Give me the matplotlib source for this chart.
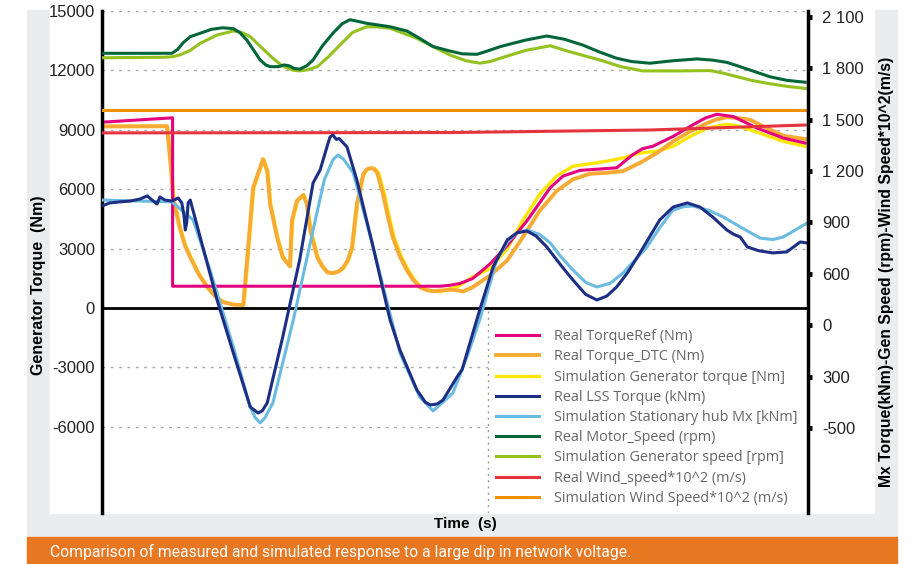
import matplotlib
matplotlib.use("Agg")
import matplotlib.pyplot as plt
from matplotlib.patches import Rectangle

# time axis in seconds (no tick labels shown on the original)
t_ref = [0, 1.00, 1.00, 4.79, 4.93, 5.07, 5.25, 5.50, 5.74, 6.02, 6.35, 6.53, 6.77, 7.29, 7.52, 7.66,
         7.80, 8.09, 8.37, 8.55, 8.71, 8.94, 9.28, 9.65, 9.96]
torque_ref = [9384, 9604, 1100, 1100, 1150, 1237, 1488, 2240, 3156, 4409, 6077, 6663, 6949, 7079, 7750, 8051,
              8166, 8667, 9254, 9600, 9785, 9669, 9083, 8582, 8332]

t_dtc = [0, 0.92, 0.97, 1.01, 1.10, 1.17, 1.25, 1.37, 1.49, 1.60, 1.71, 1.86, 2.00, 2.07, 2.14, 2.28,
         2.34, 2.38, 2.48, 2.56, 2.66, 2.69, 2.76, 2.85, 2.90, 2.95, 3.05, 3.12, 3.19, 3.27, 3.35, 3.41,
         3.48, 3.54, 3.61, 3.70, 3.75, 3.80, 3.85, 3.90, 3.98, 4.05, 4.12, 4.22, 4.32, 4.40, 4.50, 4.60,
         4.69, 4.93, 5.03, 5.11, 5.25, 5.50, 5.74, 5.96, 6.20, 6.44, 6.67, 6.91, 7.15, 7.38, 7.62, 7.86,
         8.09, 8.33, 8.57, 8.70, 8.85, 9.00, 9.18, 9.42, 9.65, 9.96]
torque_dtc = [9170, 9180, 7300, 5500, 4060, 3200, 2560, 1700, 1050, 600, 300, 170, 150, 3056, 6060, 7515,
              6914, 5261, 3557, 2555, 2104, 4409, 5411, 5711, 5261, 3908, 2555, 2100, 1804, 1754, 1850, 2004,
              2400, 3056, 5261, 6764, 7000, 7064, 7030, 6814, 5762, 4600, 3557, 2600, 1904, 1450, 1052, 900,
              850, 920, 900, 830, 1050, 1653, 2405, 3572, 4910, 5912, 6498, 6778, 6828, 6914, 7330, 7830,
              8417, 8918, 9334, 9520, 9634, 9600, 9504, 9083, 8702, 8532]

t_simtq = [0, 0.93, 0.98, 1.02, 1.11, 1.18, 1.26, 1.38, 1.50, 1.61, 1.72, 1.87, 2.01, 2.08, 2.15, 2.29,
           2.35, 2.39, 2.49, 2.57, 2.67, 2.70, 2.77, 2.86, 2.91, 2.96, 3.06, 3.13, 3.20, 3.28, 3.36, 3.42,
           3.49, 3.55, 3.62, 3.71, 3.76, 3.82, 3.87, 3.92, 4.00, 4.07, 4.14, 4.24, 4.34, 4.42, 4.52, 4.62,
           4.70, 4.79, 5.05, 5.25, 5.50, 5.74, 5.96, 6.20, 6.44, 6.67, 6.91, 7.15, 7.38, 7.62, 7.86, 8.09,
           8.33, 8.57, 8.85, 9.00, 9.18, 9.42, 9.65, 9.96]
sim_torque = [9170, 9180, 7300, 5500, 4060, 3200, 2560, 1700, 1050, 600, 300, 170, 150, 3056, 6060, 7515,
              6914, 5261, 3557, 2555, 2104, 4409, 5411, 5711, 5261, 3908, 2555, 2100, 1804, 1754, 1850, 2004,
              2400, 3056, 5261, 6764, 7000, 7064, 7030, 6814, 5762, 4600, 3557, 2600, 1904, 1450, 1052, 900,
              850, 817, 1100, 1568, 1989, 2991, 4409, 5746, 6663, 7164, 7280, 7415, 7580, 7830, 7916, 8166,
              8667, 9083, 9284, 9200, 9003, 8700, 8417, 8166]

t_lss = [0, 0.11, 0.25, 0.40, 0.54, 0.64, 0.71, 0.78, 0.82, 0.89, 0.99, 1.08, 1.13, 1.16, 1.18, 1.20,
         1.22, 1.25, 1.39, 1.63, 1.86, 2.10, 2.17, 2.21, 2.27, 2.34, 2.56, 2.80, 2.99, 3.09, 3.20, 3.23,
         3.27, 3.32, 3.36, 3.47, 3.61, 3.84, 4.08, 4.22, 4.46, 4.58, 4.65, 4.75, 4.83, 5.03, 5.10, 5.17,
         5.35, 5.54, 5.74, 5.88, 6.02, 6.15, 6.30, 6.50, 6.67, 6.85, 7.01, 7.15, 7.29, 7.45, 7.62, 7.90,
         8.09, 8.29, 8.47, 8.65, 8.85, 8.95, 9.04, 9.14, 9.30, 9.50, 9.70, 9.89, 9.99]
lss_torque = [996, 1014, 1020, 1025, 1037, 1055, 1031, 1008, 1049, 1031, 1025, 1043, 1014, 944, 856, 900,
              1014, 1031, 815, 447, 138, -178, -200, -213, -200, -154, 231, 681, 1131, 1207, 1360, 1399,
              1411, 1385, 1390, 1341, 1148, 757, 331, 155, -78, -150, -166, -160, -137, -2, 40, 138,
              389, 640, 798, 840, 850, 820, 757, 650, 564, 480, 447, 470, 523, 610, 722, 915,
              990, 1014, 990, 932, 856, 830, 815, 757, 735, 722, 728, 786, 780]

t_hub = [0, 0.99, 1.29, 1.53, 1.86, 2.10, 2.17, 2.24, 2.31, 2.42, 2.71, 2.99, 3.15, 3.27, 3.34, 3.42,
         3.56, 3.84, 4.22, 4.50, 4.69, 4.97, 5.17, 5.35, 5.59, 5.75, 5.88, 6.02, 6.20, 6.35, 6.50, 6.67,
         6.85, 7.01, 7.20, 7.38, 7.55, 7.72, 7.90, 8.09, 8.25, 8.37, 8.60, 8.80, 9.04, 9.32, 9.50, 9.65,
         9.99]
hub_mx = [1031, 1020, 915, 623, 173, -178, -240, -271, -240, -154, 331, 856, 1150, 1265, 1294, 1270,
          1189, 757, 138, -119, -201, -96, 114, 331, 681, 790, 839, 856, 830, 780, 700, 623,
          550, 523, 545, 605, 680, 757, 870, 973, 993, 996, 970, 932, 874, 809, 800, 815,
          897]

t_motor = [0, 0.99, 1.07, 1.15, 1.25, 1.39, 1.55, 1.71, 1.86, 1.95, 2.05, 2.15, 2.24, 2.32, 2.38, 2.50,
           2.58, 2.65, 2.72, 2.80, 2.90, 2.99, 3.12, 3.27, 3.40, 3.51, 3.62, 3.75, 4.08, 4.32, 4.50, 4.69,
           4.93, 5.10, 5.31, 5.45, 5.64, 6.00, 6.30, 6.55, 6.81, 7.05, 7.29, 7.50, 7.76, 8.10, 8.43, 8.65,
           8.85, 9.00, 9.18, 9.46, 9.70, 9.96]
motor_speed = [1888, 1888, 1910, 1950, 1985, 2005, 2028, 2037, 2032, 2010, 1966, 1905, 1849, 1820, 1810, 1810,
               1820, 1815, 1800, 1795, 1815, 1849, 1930, 2005, 2060, 2084, 2075, 2063, 2043, 2018, 1975, 1927,
               1901, 1885, 1882, 1900, 1927, 1965, 1989, 1970, 1936, 1895, 1859, 1840, 1830, 1845, 1855, 1848,
               1835, 1815, 1790, 1751, 1730, 1719]

t_gen = [0, 0.89, 1.00, 1.10, 1.25, 1.39, 1.63, 1.86, 1.98, 2.10, 2.25, 2.42, 2.55, 2.70, 2.80, 2.92,
         3.05, 3.20, 3.37, 3.55, 3.75, 3.90, 4.08, 4.25, 4.46, 4.70, 4.93, 5.15, 5.35, 5.50, 5.64, 6.00,
         6.35, 6.60, 7.05, 7.35, 7.66, 8.20, 8.61, 8.80, 8.94, 9.20, 9.42, 9.70, 9.96]
gen_speed = [1862, 1865, 1868, 1878, 1905, 1946, 1995, 2018, 2010, 1985, 1925, 1859, 1815, 1790, 1785, 1792,
             1810, 1865, 1936, 2010, 2043, 2042, 2034, 2008, 1975, 1925, 1878, 1845, 1830, 1840, 1859, 1905,
             1932, 1900, 1849, 1810, 1785, 1785, 1787, 1772, 1757, 1730, 1713, 1695, 1683]

t_wind = [0, 4.93, 7.76, 9.96]
wind_real = [1423, 1425, 1440, 1469]
t_wind_sim = [0, 9.96]
wind_sim = [1555, 1555]

left_ticks = [-6000, -3000, 0, 3000, 6000, 9000, 12000, 15000]
left_labels = ["-6000", "-3000", "0", "3000", "6000", "9000", "12000", "15000"]
right_ticks = [2100, 1800, 1500, 1200, 900, 600, 300, 0, -300]
right_labels = ["2 100", "1 800", "1 500", "1 200", "900", "600", "0", "300", "-500"]

labels = ["Real TorqueRef (Nm)", "Real Torque_DTC (Nm)", "Simulation Generator torque [Nm]",
          "Real LSS Torque (kNm)", "Simulation Stationary hub Mx [kNm]", "Real Motor_Speed (rpm)",
          "Simulation Generator speed [rpm]", "Real Wind_speed*10^2 (m/s)",
          "Simulation Wind Speed*10^2 (m/s)"]
colors = ["#e5007e", "#f7ab35", "#ffe600", "#1d2f84", "#6bbbe0", "#00663a", "#95c11f", "#e5343e", "#f39200"]

W, H = 913, 564
plt.rcParams["font.family"] = ["Liberation Sans", "DejaVu Sans"]

fig = plt.figure(figsize=(W / 100, H / 100), dpi=100)
# background panels
fig.patches.append(Rectangle((27 / W, 27 / H), 870 / W, 527 / H, transform=fig.transFigure,
                             color="#ebeced", zorder=-2))
fig.patches.append(Rectangle((50 / W, 51 / H), 824 / W, 513 / H, transform=fig.transFigure,
                             color="white", zorder=-1))
fig.patches.append(Rectangle((27 / W, 0), 870 / W, 27 / H, transform=fig.transFigure,
                             color="#e87722", zorder=-1))

ax = fig.add_axes([102 / W, 51 / H, 706 / W, 502 / H])
ax.patch.set_alpha(0)
ax.set_xlim(0, 10)
ax.set_ylim(-10354, 15000)
ax.set_xticks([])
ax.set_yticks(left_ticks)
ax.set_yticklabels(left_labels)
ax.tick_params(axis="y", length=0, pad=5, labelsize=12, labelcolor="#222222")
ax.yaxis.grid(True, linestyle=(0, (2, 4)), color="#aaaaaa", linewidth=1)
for s in ["top", "bottom", "right"]:
    ax.spines[s].set_visible(False)
ax.spines["left"].set_linewidth(2.5)

ax.axhline(0, color="black", lw=2, zorder=1.8)

# white box behind legend with dotted left edge
leg_x0 = 5.47
ax.add_patch(Rectangle((leg_x0, -10354), 10 - leg_x0, 10354, color="white", zorder=1.6))
ax.vlines(leg_x0, -10354, 0, colors="#999999", linestyles=(0, (1.5, 3)), lw=1, zorder=1.7)

h_sim, = ax.plot(t_simtq, sim_torque, color=colors[2], lw=2.4, zorder=2)
h_dtc, = ax.plot(t_dtc, torque_dtc, color=colors[1], lw=2.8, zorder=2.1)
h_ref, = ax.plot(t_ref, torque_ref, color=colors[0], lw=2.2, zorder=2.2)

ax2 = ax.twinx()
ax2.set_ylim(-797, 2135)
ax2.set_yticks(right_ticks)
ax2.set_yticklabels(right_labels)
ax2.tick_params(axis="y", direction="out", length=3, width=3.5, pad=7, labelsize=12, labelcolor="#222222")
for s in ["top", "bottom", "left"]:
    ax2.spines[s].set_visible(False)
ax2.spines["right"].set_linewidth(2.5)

h_wsim, = ax2.plot(t_wind_sim, wind_sim, color=colors[8], lw=2.2)
h_wind, = ax2.plot(t_wind, wind_real, color=colors[7], lw=2.2)
h_gen, = ax2.plot(t_gen, gen_speed, color=colors[6], lw=2.2)
h_motor, = ax2.plot(t_motor, motor_speed, color=colors[5], lw=2.2)
h_hub, = ax2.plot(t_hub, hub_mx, color=colors[4], lw=2.2)
h_lss, = ax2.plot(t_lss, lss_torque, color=colors[3], lw=2.2)

handles = [h_ref, h_dtc, h_sim, h_lss, h_hub, h_motor, h_gen, h_wind, h_wsim]
leg = ax2.legend(handles, labels, loc="upper left", bbox_to_anchor=(0.558, 0.366), frameon=False,
                 prop={"family": ["Open Sans", "DejaVu Sans"], "size": 10.4}, handlelength=3.0,
                 handletextpad=1.0, labelspacing=0.36, borderpad=0, borderaxespad=0)
for txt in leg.get_texts():
    txt.set_color("#666666")

fig.text(38 / W, 1 - 285 / H, "Generator Torque  (Nm)", rotation=90, ha="center", va="center",
         fontsize=11.5, fontweight="bold")
fig.text(886 / W, 1 - 272 / H, "Mx Torque(kNm)-Gen Speed (rpm)-Wind Speed*10^2(m/s)", rotation=90,
         ha="center", va="center", fontsize=11.3, fontweight="bold")
fig.text(465 / W, 1 - 524 / H, "Time  (s)", ha="center", va="center", fontsize=11, fontweight="bold")
fig.text(50 / W, 1 - 552 / H, "Comparison of measured and simulated response to a large dip in network voltage.",
         ha="left", va="center", fontsize=11.3, color="white", family=["Roboto", "DejaVu Sans"])

fig.savefig("out.png", dpi=100)
